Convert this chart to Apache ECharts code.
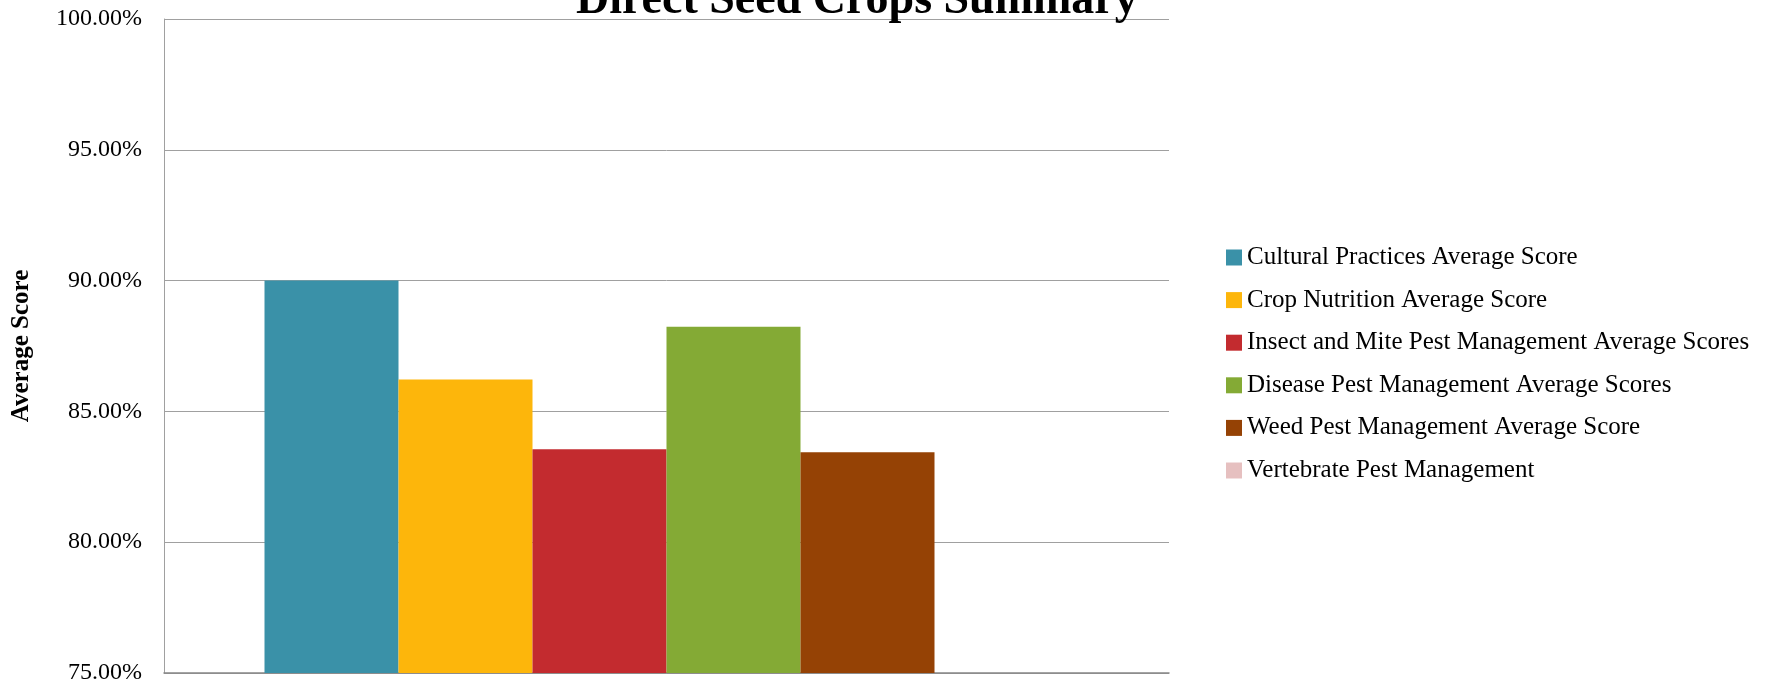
<!DOCTYPE html>
<html>
<head>
<meta charset="UTF-8">
<title>Direct Seed Crops Summary</title>
<style type="text/css">
    html,body{padding:0; margin:0; background:#fff;}
    #main{width:1776px; height:686px;}
</style>
<script src="https://cdn.jsdelivr.net/npm/echarts@6/dist/echarts.min.js"></script>
</head>
<body>
<div id="main"></div>
<script type="text/javascript">
    // one category, six series (percent scores)
    var categories = ['Direct Seed Crops'];
    var seriesNames = [
        'Cultural Practices Average Score',
        'Crop Nutrition Average Score',
        'Insect and Mite Pest Management Average Scores',
        'Disease Pest Management Average Scores',
        'Weed Pest Management Average Score',
        'Vertebrate Pest Management'
    ];
    var seriesValues = [90.0, 86.22, 83.55, 88.24, 83.44, null];
    var seriesColors = ['#3a91a8', '#fdb60b', '#c32b2f', '#84aa35', '#954205', '#e6c0c0'];

    var serif = 'Liberation Serif, Times New Roman, serif';

    var series = seriesNames.map(function (name, i) {
        return {
            name: name,
            type: 'bar',
            barGap: '0%',
            barCategoryGap: '20%',
            itemStyle: {color: seriesColors[i]},
            data: [seriesValues[i]]
        };
    });

    var myChart = echarts.init(document.getElementById('main'));
    var option = {
        animation: false,
        title: {
            text: 'Direct Seed Crops Summary',
            left: 576,
            top: -22,
            padding: 0,
            textStyle: {fontFamily: serif, fontSize: 46, fontWeight: 'bold', color: '#000'}
        },
        legend: {
            orient: 'vertical',
            left: 1221,
            top: 239.5,
            itemWidth: 16,
            itemHeight: 16,
            itemGap: 16.6,
            icon: 'rect',
            textStyle: {fontFamily: serif, fontSize: 25, color: '#000', lineHeight: 26},
            data: seriesNames
        },
        grid: {left: 164, right: 607, top: 19, bottom: 13},
        xAxis: {
            type: 'category',
            data: categories,
            axisLine: {lineStyle: {color: '#868686', width: 1.5}},
            axisTick: {show: false},
            axisLabel: {show: false}
        },
        yAxis: {
            type: 'value',
            min: 75,
            max: 100,
            interval: 5,
            name: 'Average Score',
            nameLocation: 'middle',
            nameGap: 130,
            nameTextStyle: {fontFamily: serif, fontSize: 25, fontWeight: 'bold', color: '#000'},
            axisLine: {show: true, lineStyle: {color: '#a0a0a0'}},
            axisTick: {show: false},
            splitLine: {lineStyle: {color: '#a0a0a0'}},
            axisLabel: {
                margin: 22,
                fontFamily: serif,
                fontSize: 24,
                color: '#000',
                formatter: function (v) { return v.toFixed(2) + '%'; }
            }
        },
        series: series
    };
    myChart.setOption(option);
</script>
</body>
</html>
